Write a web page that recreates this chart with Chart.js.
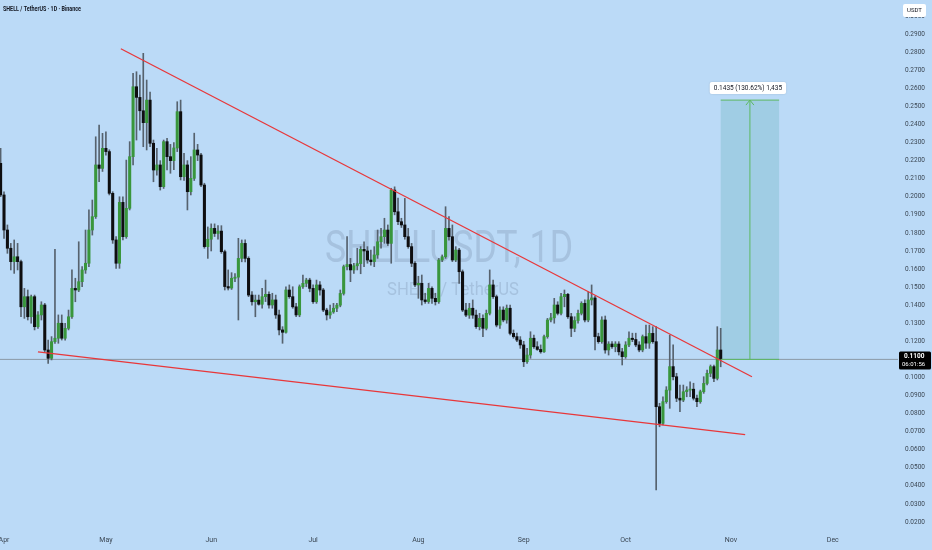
<!DOCTYPE html>
<html>
<head>
<meta charset="utf-8">
<title>SHELLUSDT 1D</title>
<script src="https://cdn.jsdelivr.net/npm/chart.js@4.4.1/dist/chart.umd.min.js"></script>
<style>
  html, body { margin: 0; padding: 0; background: #bbdaf7; }
  #wrap { width: 932px; height: 550px; position: relative; }
</style>
</head>
<body>
<div id="wrap"><canvas id="chart"></canvas></div>
<script>
// daily candles, day 0 = Apr 1, first candle is Mar 31
const firstDay = -1;

const opens = [
  0.2185,0.2010,0.1816,0.1715,0.1641,0.1668,0.1641,0.1391,0.1447,0.1336,
  0.1447,0.1281,0.1346,0.1401,0.1152,0.1106,0.1198,0.1217,0.1300,0.1217,
  0.1272,0.1336,0.1493,0.1484,0.1530,0.1595,0.1632,0.1816,0.1890,0.2176,
  0.2157,0.2268,0.2250,0.2019,0.1761,0.1632,0.1969,0.1779,0.1936,0.2222,
  0.2609,0.2550,0.2476,0.2410,0.2535,0.2296,0.2148,0.2176,0.2056,0.2305,
  0.2222,0.2200,0.2270,0.2471,0.2111,0.2176,0.2028,0.2102,0.2259,0.2231,
  0.2065,0.1724,0.1765,0.1825,0.1797,0.1810,0.1696,0.1503,0.1495,0.1549,
  0.1555,0.1659,0.1742,0.1659,0.1456,0.1419,0.1428,0.1405,0.1447,0.1460,
  0.1401,0.1429,0.1346,0.1263,0.1250,0.1484,0.1447,0.1391,0.1346,0.1502,
  0.1521,0.1539,0.1493,0.1419,0.1512,0.1484,0.1373,0.1346,0.1363,0.1383,
  0.1400,0.1465,0.1613,0.1625,0.1595,0.1618,0.1630,0.1709,0.1700,0.1650,
  0.1641,0.1678,0.1751,0.1779,0.1816,0.1742,0.2037,0.1917,0.1862,0.1844,
  0.1779,0.1724,0.1632,0.1512,0.1521,0.1429,0.1420,0.1493,0.1438,0.1419,
  0.1650,0.1668,0.1825,0.1779,0.1650,0.1705,0.1585,0.1373,0.1345,0.1383,
  0.1345,0.1281,0.1327,0.1272,0.1355,0.1512,0.1447,0.1290,0.1373,0.1318,
  0.1383,0.1244,0.1226,0.1207,0.1180,0.1087,0.1124,0.1217,0.1170,0.1155,
  0.1142,0.1226,0.1318,0.1330,0.1401,0.1355,0.1447,0.1460,0.1336,0.1272,
  0.1315,0.1355,0.1410,0.1318,0.1429,0.1440,0.1226,0.1198,0.1318,0.1152,
  0.1185,0.1170,0.1185,0.1142,0.1115,0.1180,0.1217,0.1210,0.1180,0.1152,
  0.1226,0.1190,0.1244,0.1198,0.0838,0.0746,0.0866,0.0930,0.1060,0.1004,
  0.0885,0.0875,0.0921,0.0930,0.0935,0.0885,0.0866,0.0921,0.0967,0.1023,
  0.1060,0.0995,0.1152
];

const highs = [
  0.2268,0.2028,0.1844,0.1742,0.1761,0.1742,0.1650,0.1493,0.1484,0.1456,
  0.1456,0.1364,0.1419,0.1410,0.1207,0.1226,0.1709,0.1346,0.1346,0.1300,
  0.1373,0.1595,0.1549,0.1751,0.1613,0.1816,0.1927,0.1982,0.2332,0.2397,
  0.2351,0.2360,0.2260,0.2028,0.1779,0.2000,0.2000,0.2203,0.2305,0.2683,
  0.2692,0.2674,0.2794,0.2646,0.2580,0.2314,0.2268,0.2200,0.2314,0.2323,
  0.2290,0.2300,0.2526,0.2535,0.2240,0.2200,0.2222,0.2352,0.2290,0.2240,
  0.2075,0.1833,0.1850,0.1850,0.1840,0.1840,0.1705,0.1595,0.1580,0.1575,
  0.1770,0.1761,0.1761,0.1668,0.1475,0.1456,0.1456,0.1493,0.1539,0.1474,
  0.1466,0.1456,0.1373,0.1281,0.1502,0.1512,0.1502,0.1410,0.1512,0.1567,
  0.1549,0.1549,0.1512,0.1539,0.1530,0.1493,0.1383,0.1400,0.1410,0.1410,
  0.1484,0.1622,0.1779,0.1659,0.1632,0.1715,0.1724,0.1751,0.1724,0.1705,
  0.1724,0.1816,0.1825,0.1881,0.1844,0.2047,0.2055,0.1993,0.1881,0.1991,
  0.1825,0.1742,0.1641,0.1560,0.1567,0.1466,0.1521,0.1502,0.1466,0.1659,
  0.1678,0.1945,0.1890,0.1844,0.1724,0.1715,0.1595,0.1410,0.1410,0.1429,
  0.1373,0.1355,0.1346,0.1373,0.1595,0.1539,0.1456,0.1391,0.1391,0.1401,
  0.1401,0.1263,0.1245,0.1226,0.1200,0.1161,0.1253,0.1235,0.1198,0.1180,
  0.1235,0.1327,0.1355,0.1438,0.1419,0.1466,0.1484,0.1466,0.1355,0.1336,
  0.1373,0.1419,0.1429,0.1474,0.1512,0.1450,0.1245,0.1336,0.1340,0.1198,
  0.1198,0.1198,0.1198,0.1161,0.1198,0.1253,0.1245,0.1245,0.1198,0.1235,
  0.1290,0.1290,0.1281,0.1281,0.0857,0.0893,0.0949,0.1235,0.1180,0.1023,
  0.0958,0.0958,0.0949,0.0976,0.0968,0.0903,0.0930,0.1004,0.1041,0.1069,
  0.1069,0.1281,0.1272
];

const lows = [
  0.2000,0.1770,0.1687,0.1595,0.1576,0.1595,0.1336,0.1327,0.1318,0.1300,
  0.1263,0.1272,0.1318,0.1143,0.1078,0.1097,0.1189,0.1189,0.1207,0.1207,
  0.1263,0.1327,0.1419,0.1475,0.1502,0.1576,0.1613,0.1788,0.1880,0.2083,
  0.2140,0.2230,0.2010,0.1742,0.1604,0.1604,0.1761,0.1770,0.1927,0.2176,
  0.2314,0.2369,0.2277,0.2259,0.2277,0.2083,0.2120,0.2037,0.2046,0.2148,
  0.2130,0.2150,0.2250,0.2093,0.2090,0.1927,0.2010,0.2090,0.2200,0.2056,
  0.1715,0.1659,0.1700,0.1780,0.1765,0.1687,0.1484,0.1484,0.1487,0.1530,
  0.1318,0.1640,0.1640,0.1447,0.1400,0.1336,0.1400,0.1383,0.1420,0.1383,
  0.1383,0.1327,0.1235,0.1189,0.1245,0.1438,0.1383,0.1336,0.1336,0.1493,
  0.1502,0.1474,0.1410,0.1410,0.1456,0.1364,0.1318,0.1327,0.1355,0.1364,
  0.1391,0.1456,0.1595,0.1530,0.1576,0.1595,0.1574,0.1613,0.1632,0.1622,
  0.1613,0.1659,0.1715,0.1742,0.1730,0.1632,0.1900,0.1845,0.1830,0.1765,
  0.1715,0.1613,0.1502,0.1438,0.1401,0.1410,0.1410,0.1410,0.1401,0.1410,
  0.1641,0.1659,0.1760,0.1641,0.1641,0.1521,0.1364,0.1336,0.1327,0.1327,
  0.1272,0.1263,0.1226,0.1263,0.1346,0.1438,0.1280,0.1272,0.1308,0.1300,
  0.1235,0.1217,0.1198,0.1161,0.1060,0.1078,0.1106,0.1161,0.1150,0.1134,
  0.1138,0.1217,0.1308,0.1300,0.1346,0.1346,0.1391,0.1327,0.1226,0.1253,
  0.1300,0.1346,0.1308,0.1308,0.1401,0.1152,0.1189,0.1189,0.1134,0.1124,
  0.1160,0.1142,0.1124,0.1069,0.1106,0.1170,0.1198,0.1170,0.1142,0.1142,
  0.1161,0.1161,0.1189,0.0377,0.0727,0.0737,0.0857,0.0829,0.0986,0.0866,
  0.0810,0.0866,0.0893,0.0893,0.0875,0.0838,0.0857,0.0912,0.0958,0.1004,
  0.0976,0.0986,0.1059
];

const closes = [
  0.2010,0.1816,0.1715,0.1641,0.1668,0.1641,0.1391,0.1447,0.1336,0.1447,
  0.1281,0.1346,0.1401,0.1152,0.1106,0.1198,0.1217,0.1300,0.1217,0.1272,
  0.1336,0.1493,0.1484,0.1530,0.1595,0.1632,0.1816,0.1890,0.2176,0.2157,
  0.2268,0.2250,0.2019,0.1761,0.1632,0.1969,0.1779,0.1936,0.2222,0.2609,
  0.2550,0.2476,0.2410,0.2535,0.2296,0.2148,0.2176,0.2056,0.2305,0.2222,
  0.2200,0.2270,0.2471,0.2111,0.2176,0.2028,0.2102,0.2259,0.2231,0.2065,
  0.1724,0.1765,0.1825,0.1797,0.1810,0.1696,0.1503,0.1495,0.1549,0.1555,
  0.1659,0.1742,0.1659,0.1456,0.1419,0.1428,0.1405,0.1447,0.1460,0.1401,
  0.1429,0.1346,0.1263,0.1250,0.1484,0.1447,0.1391,0.1346,0.1502,0.1521,
  0.1539,0.1493,0.1419,0.1512,0.1484,0.1373,0.1346,0.1363,0.1383,0.1400,
  0.1465,0.1613,0.1625,0.1595,0.1618,0.1630,0.1709,0.1700,0.1650,0.1641,
  0.1678,0.1751,0.1779,0.1816,0.1742,0.2037,0.1917,0.1862,0.1844,0.1779,
  0.1724,0.1632,0.1512,0.1521,0.1429,0.1420,0.1493,0.1438,0.1419,0.1650,
  0.1668,0.1825,0.1779,0.1650,0.1705,0.1585,0.1373,0.1345,0.1383,0.1345,
  0.1281,0.1327,0.1272,0.1355,0.1512,0.1447,0.1290,0.1373,0.1318,0.1383,
  0.1244,0.1226,0.1207,0.1180,0.1087,0.1124,0.1217,0.1170,0.1155,0.1142,
  0.1226,0.1318,0.1330,0.1401,0.1355,0.1447,0.1460,0.1336,0.1272,0.1315,
  0.1355,0.1410,0.1318,0.1429,0.1440,0.1226,0.1198,0.1318,0.1152,0.1185,
  0.1170,0.1185,0.1142,0.1115,0.1180,0.1217,0.1210,0.1180,0.1152,0.1226,
  0.1190,0.1244,0.1198,0.0838,0.0746,0.0866,0.0930,0.1060,0.1004,0.0885,
  0.0875,0.0921,0.0930,0.0935,0.0885,0.0866,0.0921,0.0967,0.1023,0.1060,
  0.0995,0.1152,0.1100
];

const monthLabels = ['Apr', 'May', 'Jun', 'Jul', 'Aug', 'Sep', 'Oct', 'Nov', 'Dec'];
const monthStarts = [0, 30, 61, 91, 122, 153, 183, 214, 244];
const priceTicks = [0.02, 0.03, 0.04, 0.05, 0.06, 0.07, 0.08, 0.09, 0.10, 0.11, 0.12, 0.13, 0.14, 0.15,
  0.16, 0.17, 0.18, 0.19, 0.20, 0.21, 0.22, 0.23, 0.24, 0.25, 0.26, 0.27, 0.28, 0.29, 0.30];

// falling wedge lines (day, price)
const upperLineDays = [34.4, 220.2];
const upperLinePrices = [0.2819, 0.1004];
const lowerLineDays = [10.0, 218.2];
const lowerLinePrices = [0.1141, 0.0683];

const lastPrice = 0.1100;
const lastTime = '06:01:56';
const rangeDays = [211, 228.2];
const rangePrices = [0.1100, 0.2535];
const rangeText = '0.1435 (130.62%) 1,435';
const title = 'SHELL / TetherUS \u00b7 1D \u00b7 Binance';

// visible window
const xMin = -1.18, xMax = 263.2;
const yMin = 0.01557, yMax = 0.3089;

const bg = '#bbdaf7';
const upColor = '#39963c';
const downColor = '#0e0e10';

const wickData = highs.map((h, i) => ({ x: firstDay + i, y: [lows[i], h] }));
const bodyData = opens.map((o, i) => ({ x: firstDay + i, y: [o, closes[i]] }));
const bodyColors = opens.map((o, i) => closes[i] >= o ? upColor : downColor);

const overlay = {
  id: 'overlay',
  beforeDraw(chart) {
    const { ctx, chartArea: a, scales: { x, y } } = chart;
    ctx.save();
    ctx.fillStyle = bg;
    ctx.fillRect(0, 0, chart.width, chart.height);

    // watermark
    const cx = (a.left + a.right) / 2, cy = (a.top + a.bottom) / 2;
    ctx.fillStyle = 'rgba(110, 132, 162, 0.28)';
    ctx.textAlign = 'center';
    ctx.textBaseline = 'middle';
    ctx.font = '44px Roboto';
    ctx.fillText('SHELLUSDT, 1D', cx, cy - 14, 248);
    ctx.font = '19px Roboto';
    ctx.fillText('SHELL / TetherUS', cx + 4, cy + 25, 132);

    // price range box
    const x0 = x.getPixelForValue(rangeDays[0]), x1 = x.getPixelForValue(rangeDays[1]);
    const yLo = y.getPixelForValue(rangePrices[0]), yHi = y.getPixelForValue(rangePrices[1]);
    ctx.fillStyle = '#a0cde4';
    ctx.fillRect(x0, yHi, x1 - x0, yLo - yHi);
    ctx.restore();
  },
  afterDatasetsDraw(chart) {
    const { ctx, chartArea: a, scales: { x, y } } = chart;
    const x0 = x.getPixelForValue(rangeDays[0]), x1 = x.getPixelForValue(rangeDays[1]);
    const yLo = y.getPixelForValue(rangePrices[0]), yHi = y.getPixelForValue(rangePrices[1]);
    const xm = (x0 + x1) / 2;
    ctx.save();

    ctx.strokeStyle = '#5cb860';
    ctx.lineWidth = 1;
    ctx.beginPath();
    ctx.moveTo(x0, yHi); ctx.lineTo(x1, yHi);
    ctx.moveTo(x0, yLo); ctx.lineTo(x1, yLo);
    ctx.moveTo(xm, yLo); ctx.lineTo(xm, yHi);
    ctx.moveTo(xm - 4, yHi + 5); ctx.lineTo(xm, yHi); ctx.lineTo(xm + 4, yHi + 5);
    ctx.stroke();

    // range label
    ctx.font = '6.5px Roboto';
    const tw = ctx.measureText(rangeText).width + 8;
    ctx.fillStyle = '#ffffff';
    ctx.shadowColor = 'rgba(0,0,0,0.15)';
    ctx.shadowBlur = 2;
    ctx.beginPath();
    ctx.roundRect(xm - 2 - tw / 2, yHi - 18, tw, 12, 2);
    ctx.fill();
    ctx.shadowBlur = 0;
    ctx.fillStyle = '#131722';
    ctx.textAlign = 'center';
    ctx.textBaseline = 'middle';
    ctx.fillText(rangeText, xm - 2, yHi - 12);

    // last price label on the axis
    const yp = y.getPixelForValue(lastPrice);
    ctx.fillStyle = '#000000';
    ctx.beginPath();
    ctx.roundRect(a.right + 1, yp - 8, 32, 18, 1.5);
    ctx.fill();
    ctx.fillStyle = '#ffffff';
    ctx.textAlign = 'left';
    ctx.font = 'bold 6.5px Roboto';
    ctx.fillText(lastPrice.toFixed(4), a.right + 6, yp - 3);
    ctx.font = '6px Roboto';
    ctx.fillText(lastTime, a.right + 4, yp + 5);

    // currency box
    ctx.fillStyle = '#ffffff';
    ctx.beginPath();
    ctx.roundRect(a.right + 5, 4, 23, 13, 2);
    ctx.fill();
    ctx.fillStyle = '#131722';
    ctx.textAlign = 'center';
    ctx.font = '6px Roboto';
    ctx.fillText('USDT', a.right + 16.5, 10.5);

    // title
    ctx.textAlign = 'left';
    ctx.font = 'bold 7.5px Roboto';
    ctx.fillStyle = '#131722';
    ctx.fillText(title, 3, 9, 78);
    ctx.restore();
  }
};

new Chart(document.getElementById('chart'), {
  type: 'bar',
  data: {
    datasets: [
      {
        type: 'line',
        data: upperLineDays.map((d, i) => ({ x: d, y: upperLinePrices[i] })),
        borderColor: '#e8373a', borderWidth: 1.3, pointRadius: 0, order: 0
      },
      {
        type: 'line',
        data: lowerLineDays.map((d, i) => ({ x: d, y: lowerLinePrices[i] })),
        borderColor: '#e8373a', borderWidth: 1.3, pointRadius: 0, order: 0
      },
      {
        type: 'bar',
        data: bodyData,
        backgroundColor: bodyColors,
        barThickness: 2.4, minBarLength: 1, grouped: false, order: 1
      },
      {
        type: 'bar',
        data: wickData,
        backgroundColor: '#56626e',
        barThickness: 1, grouped: false, order: 2
      },
      {
        type: 'line',
        data: [{ x: xMin, y: lastPrice }, { x: xMax, y: lastPrice }],
        borderColor: '#8a98a6', borderWidth: 1, pointRadius: 0, order: 3
      }
    ]
  },
  options: {
    responsive: true,
    maintainAspectRatio: false,
    animation: false,
    layout: { padding: 0 },
    plugins: { legend: { display: false }, tooltip: { enabled: false } },
    scales: {
      x: {
        type: 'linear', min: xMin, max: xMax, offset: false,
        grid: { display: false, drawTicks: false }, border: { display: false },
        afterBuildTicks: axis => { axis.ticks = monthStarts.map(v => ({ value: v })); },
        afterFit: axis => { axis.height = 20; axis.paddingLeft = 0; axis.paddingRight = 0; },
        ticks: {
          autoSkip: false, maxRotation: 0, padding: 6, color: '#3b4754',
          font: { size: 7, family: 'Roboto' },
          callback: v => monthLabels[monthStarts.indexOf(v)]
        }
      },
      y: {
        type: 'linear', position: 'right', min: yMin, max: yMax,
        grid: { display: false, drawTicks: false }, border: { display: false },
        afterBuildTicks: axis => { axis.ticks = priceTicks.map(v => ({ value: v })); },
        afterFit: axis => { axis.width = 34; axis.paddingTop = 0; axis.paddingBottom = 0; },
        ticks: {
          padding: 7, color: '#3b4754',
          font: { size: 6.5, family: 'Roboto' },
          callback: v => v.toFixed(4)
        }
      }
    }
  },
  plugins: [overlay]
});
</script>
</body>
</html>
